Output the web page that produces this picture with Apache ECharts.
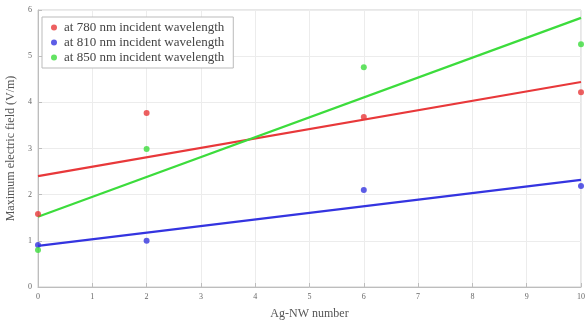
<!DOCTYPE html>
<html>
<head>
<meta charset="utf-8">
<script src="https://cdn.jsdelivr.net/npm/echarts@6/dist/echarts.min.js"></script>
<style>html,body{margin:0;padding:0;background:#fff}#c{width:585px;height:325px}</style>
</head>
<body>
<div id="c"></div>
<script>
var xTicks = [0,1,2,3,4,5,6,7,8,9,10];
var yTicks = [0,1,2,3,4,5,6];
var names = ['at 780 nm incident wavelength','at 810 nm incident wavelength','at 850 nm incident wavelength'];
var colors = ['#e8383a','#3434e0','#3cdc3c'];
var agnw = [0, 2, 6, 10];
var field780 = [1.58, 3.77, 3.68, 4.22];
var field810 = [0.91, 1.00, 2.10, 2.19];
var field850 = [0.80, 2.99, 4.76, 5.26];
var fitX = [0, 10];
var fit780 = [2.40, 4.44];
var fit810 = [0.89, 2.32];
var fit850 = [1.52, 5.83];

function pairs(xs, ys){ return xs.map(function(x,i){ return [x, ys[i]]; }); }
var pts = [field780, field810, field850];
var fits = [fit780, fit810, fit850];
var series = [];
for (var i = 0; i < 3; i++) {
  series.push({
    type: 'line', data: pairs(fitX, fits[i]), showSymbol: false, symbol: 'none',
    lineStyle: {color: colors[i], width: 2.2}, silent: true, z: 2
  });
}
for (var i = 0; i < 3; i++) {
  series.push({
    name: names[i], type: 'scatter', data: pairs(agnw, pts[i]),
    symbol: 'circle', symbolSize: 6, itemStyle: {color: colors[i]}, z: 3
  });
}
var font = 'Liberation Serif';
var chart = echarts.init(document.getElementById('c'), null, {renderer: 'canvas'});
chart.setOption({
  animation: false,
  backgroundColor: '#fff',
  grid: {left: 38, right: 4, top: 10, bottom: 38, outerBoundsMode: 'none', containLabel: false,
    show: true, borderColor: '#cfcfcf', borderWidth: 1},
  legend: {
    data: names, orient: 'vertical', left: 42, top: 17,
    backgroundColor: '#fff', borderColor: '#bbbbbb', borderWidth: 1,
    padding: [4, 9, 4, 9], itemGap: 2, itemWidth: 6, itemHeight: 6, icon: 'circle',
    textStyle: {fontFamily: font, fontSize: 13, color: '#444', padding: [0, 0, 0, 2]}
  },
  xAxis: {
    type: 'value', min: 0, max: 10, interval: 1,
    name: 'Ag-NW number', nameLocation: 'middle', nameGap: 21,
    nameTextStyle: {fontFamily: font, fontSize: 12, color: '#555'},
    axisLine: {show: true, lineStyle: {color: '#bdbdbd'}},
    axisTick: {show: true, inside: true, length: 4, lineStyle: {color: '#bdbdbd'}},
    axisLabel: {fontFamily: font, fontSize: 8, color: '#666', margin: 6,
      formatter: function(v){ return xTicks.indexOf(v) >= 0 ? String(v) : ''; }},
    splitLine: {show: true, lineStyle: {color: '#ececec', width: 1}}
  },
  yAxis: {
    type: 'value', min: 0, max: 6, interval: 1,
    name: 'Maximum electric field (V/m)', nameLocation: 'middle', nameGap: 21,
    nameTextStyle: {fontFamily: font, fontSize: 12, color: '#555'},
    axisLine: {show: true, lineStyle: {color: '#bdbdbd'}},
    axisTick: {show: true, inside: true, length: 4, lineStyle: {color: '#bdbdbd'}},
    axisLabel: {fontFamily: font, fontSize: 8, color: '#666', margin: 6,
      formatter: function(v){ return yTicks.indexOf(v) >= 0 ? String(v) : ''; }},
    splitLine: {show: true, lineStyle: {color: '#ececec', width: 1}}
  },
  series: series
});
</script>
</body>
</html>
